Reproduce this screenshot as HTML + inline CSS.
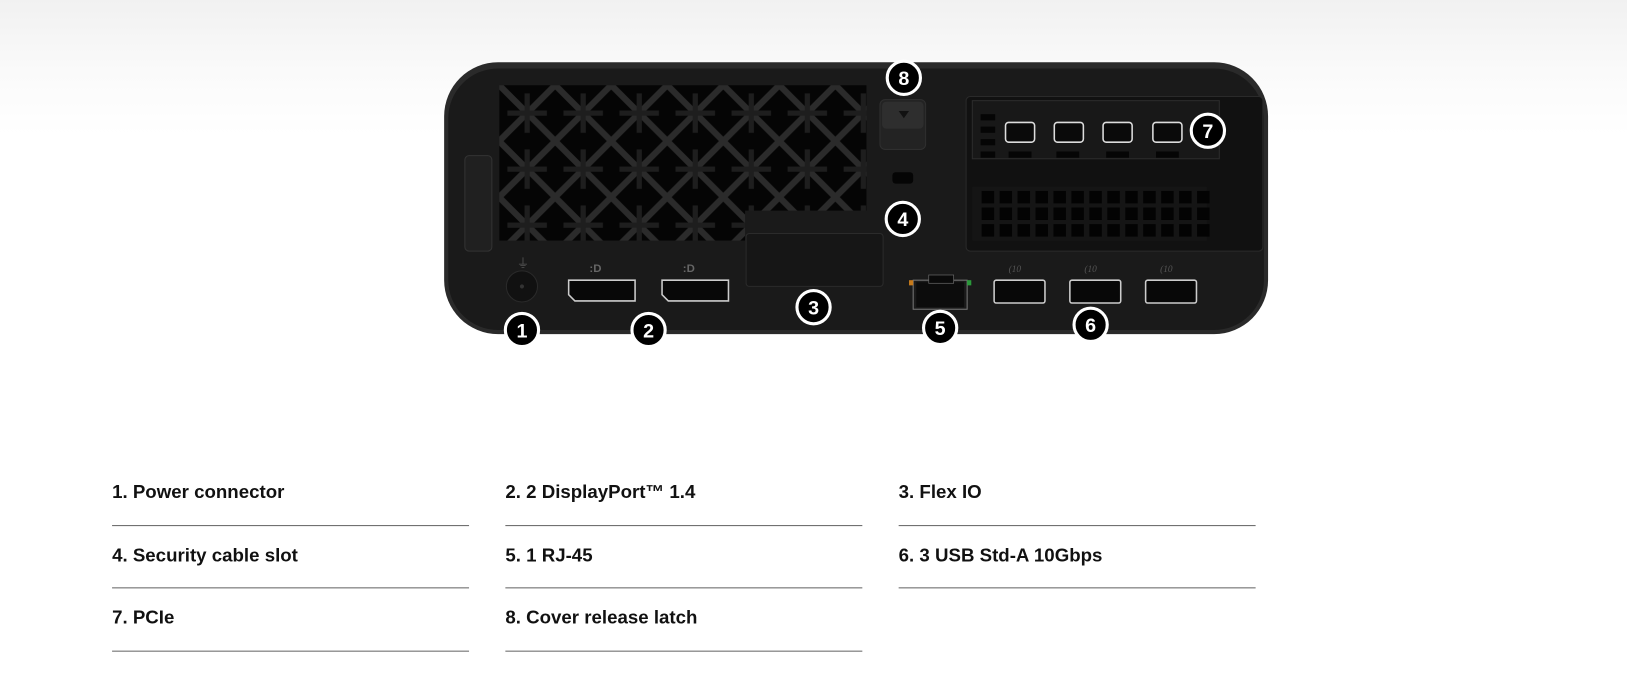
<!DOCTYPE html>
<html><head><meta charset="utf-8"><style>
html,body{margin:0;padding:0;}
body{width:1627px;height:699px;overflow:hidden;background:linear-gradient(#f1f1f1 0px,#fafafa 72px,#fff 135px);font-family:"Liberation Sans",sans-serif;position:relative;}
#w{position:absolute;left:0;top:0;width:1568px;height:674px;transform:scale(1.0377);transform-origin:0 0;}
.t{position:absolute;font-weight:bold;font-size:18px;color:#111;}
.l{position:absolute;height:1px;background:#666;width:344px;}
</style></head><body><div id="w">
<svg width="1568" height="400" style="position:absolute;left:0;top:0">
<defs>
<pattern id="vent" x="481" y="82" width="54" height="54" patternUnits="userSpaceOnUse">
<rect width="54" height="54" fill="#050505"/>
<path d="M0 0L54 54M54 0L0 54" stroke="#2b2b2b" stroke-width="6"/>
<path d="M27 8L27 46M8 27L46 27" stroke="#1e1e1e" stroke-width="5"/>
</pattern>
<clipPath id="gc"><path d="M481 82H835V203H718V232H481Z"/></clipPath>
</defs>
<rect x="428" y="60" width="794" height="262" rx="52" fill="#2a2a2a"/>
<rect x="432" y="66" width="786" height="252" rx="48" fill="#1a1a1a"/>
<rect x="448" y="150" width="26" height="92" rx="4" fill="#202020" stroke="#333"/>
<rect x="481" y="82" width="354" height="150" fill="url(#vent)" clip-path="url(#gc)"/>
<rect x="848" y="96" width="44" height="48" rx="5" fill="#232323" stroke="#2f2f2f"/>
<rect x="850" y="98" width="40" height="26" rx="4" fill="#2e2e2e"/>
<path d="M866 107h10l-5 7z" fill="#111"/>
<rect x="860" y="166" width="20" height="11" rx="3" fill="#050505"/>
<rect x="931" y="93" width="286" height="149" rx="4" fill="#111" stroke="#2a2a2a"/>
<rect x="937" y="97" width="238" height="56" fill="#181818" stroke="#2c2c2c"/>
<g fill="#050505"><rect x="945" y="110" width="14" height="6"/><rect x="945" y="122" width="14" height="6"/><rect x="945" y="134" width="14" height="6"/><rect x="945" y="146" width="14" height="6"/>
<rect x="972" y="146" width="22" height="6"/><rect x="1018" y="146" width="22" height="6"/><rect x="1066" y="146" width="22" height="6"/><rect x="1114" y="146" width="22" height="6"/></g>
<g fill="#0a0a0a" stroke="#ddd" stroke-width="1.5"><rect x="969" y="118" width="28" height="19" rx="3"/><rect x="1016" y="118" width="28" height="19" rx="3"/><rect x="1063" y="118" width="28" height="19" rx="3"/><rect x="1111" y="118" width="28" height="19" rx="3"/></g>
<rect x="937" y="180" width="226" height="52" fill="#151515"/>
<g id="holes" fill="#030303"></g>
<circle cx="503" cy="276" r="15" fill="#111" stroke="#2a2a2a"/><circle cx="503" cy="276" r="2" fill="#333"/>
<text x="498" y="258" fill="#555" font-size="12">⏚</text>
<text x="568" y="262" fill="#666" font-size="11" font-weight="bold">:D</text>
<text x="658" y="262" fill="#666" font-size="11" font-weight="bold">:D</text>
<path d="M548 270h64v20h-58l-6-6z" fill="#080808" stroke="#ccc" stroke-width="1.5"/>
<path d="M638 270h64v20h-58l-6-6z" fill="#080808" stroke="#ccc" stroke-width="1.5"/>
<rect x="719" y="225" width="132" height="51" rx="3" fill="#161616" stroke="#2b2b2b"/>
<rect x="880" y="270" width="52" height="28" fill="#1a1a1a" stroke="#777"/>
<rect x="883" y="272" width="46" height="24" fill="#0c0c0c"/>
<rect x="895" y="265" width="24" height="8" fill="#0a0a0a" stroke="#666" stroke-width="0.7"/>
<rect x="876" y="270" width="4" height="5" fill="#c77a1b"/><rect x="932" y="270" width="4" height="5" fill="#2a9a3a"/>
<g fill="#080808" stroke="#ccc" stroke-width="1.5"><rect x="958" y="270" width="49" height="22" rx="2"/><rect x="1031" y="270" width="49" height="22" rx="2"/><rect x="1104" y="270" width="49" height="22" rx="2"/></g>
<g fill="#555" font-size="9" font-style="italic" font-family="Liberation Serif"><text x="972" y="262">(10</text><text x="1045" y="262">(10</text><text x="1118" y="262">(10</text></g>
<g fill="#000" stroke="#fff" stroke-width="3">
<circle cx="503" cy="318" r="16"/><circle cx="625" cy="318" r="16"/><circle cx="784" cy="296" r="16"/><circle cx="870" cy="211" r="16"/>
<circle cx="906" cy="316" r="16"/><circle cx="1051" cy="313" r="16"/><circle cx="1164" cy="126" r="16"/><circle cx="871" cy="75" r="16"/></g>
<g fill="#fff" font-size="19" font-weight="bold" text-anchor="middle">
<text x="503" y="325">1</text><text x="625" y="325">2</text><text x="784" y="303">3</text><text x="870" y="218">4</text>
<text x="906" y="323">5</text><text x="1051" y="320">6</text><text x="1164" y="133">7</text><text x="871" y="82">8</text></g>
</svg>
<div class="t" style="left:108px;top:464px">1. Power connector</div>
<div class="t" style="left:487px;top:464px">2. 2 DisplayPort™ 1.4</div>
<div class="t" style="left:866px;top:464px">3. Flex IO</div>
<div class="t" style="left:108px;top:525px">4. Security cable slot</div>
<div class="t" style="left:487px;top:525px">5. 1 RJ-45</div>
<div class="t" style="left:866px;top:525px">6. 3 USB Std-A 10Gbps</div>
<div class="t" style="left:108px;top:585px">7. PCIe</div>
<div class="t" style="left:487px;top:585px">8. Cover release latch</div>
<div class="l" style="left:108px;top:506px"></div><div class="l" style="left:487px;top:506px"></div><div class="l" style="left:866px;top:506px"></div>
<div class="l" style="left:108px;top:566px"></div><div class="l" style="left:487px;top:566px"></div><div class="l" style="left:866px;top:566px"></div>
<div class="l" style="left:108px;top:627px"></div><div class="l" style="left:487px;top:627px"></div>
</div>
<script>
var g=document.getElementById('holes'),s='';
for(var r=0;r<3;r++)for(var c=0;c<13;c++)s+='<rect x="'+(946+c*17.3)+'" y="'+(184+r*16)+'" width="12" height="12"/>';
g.innerHTML=s;
</script>
</body></html>
